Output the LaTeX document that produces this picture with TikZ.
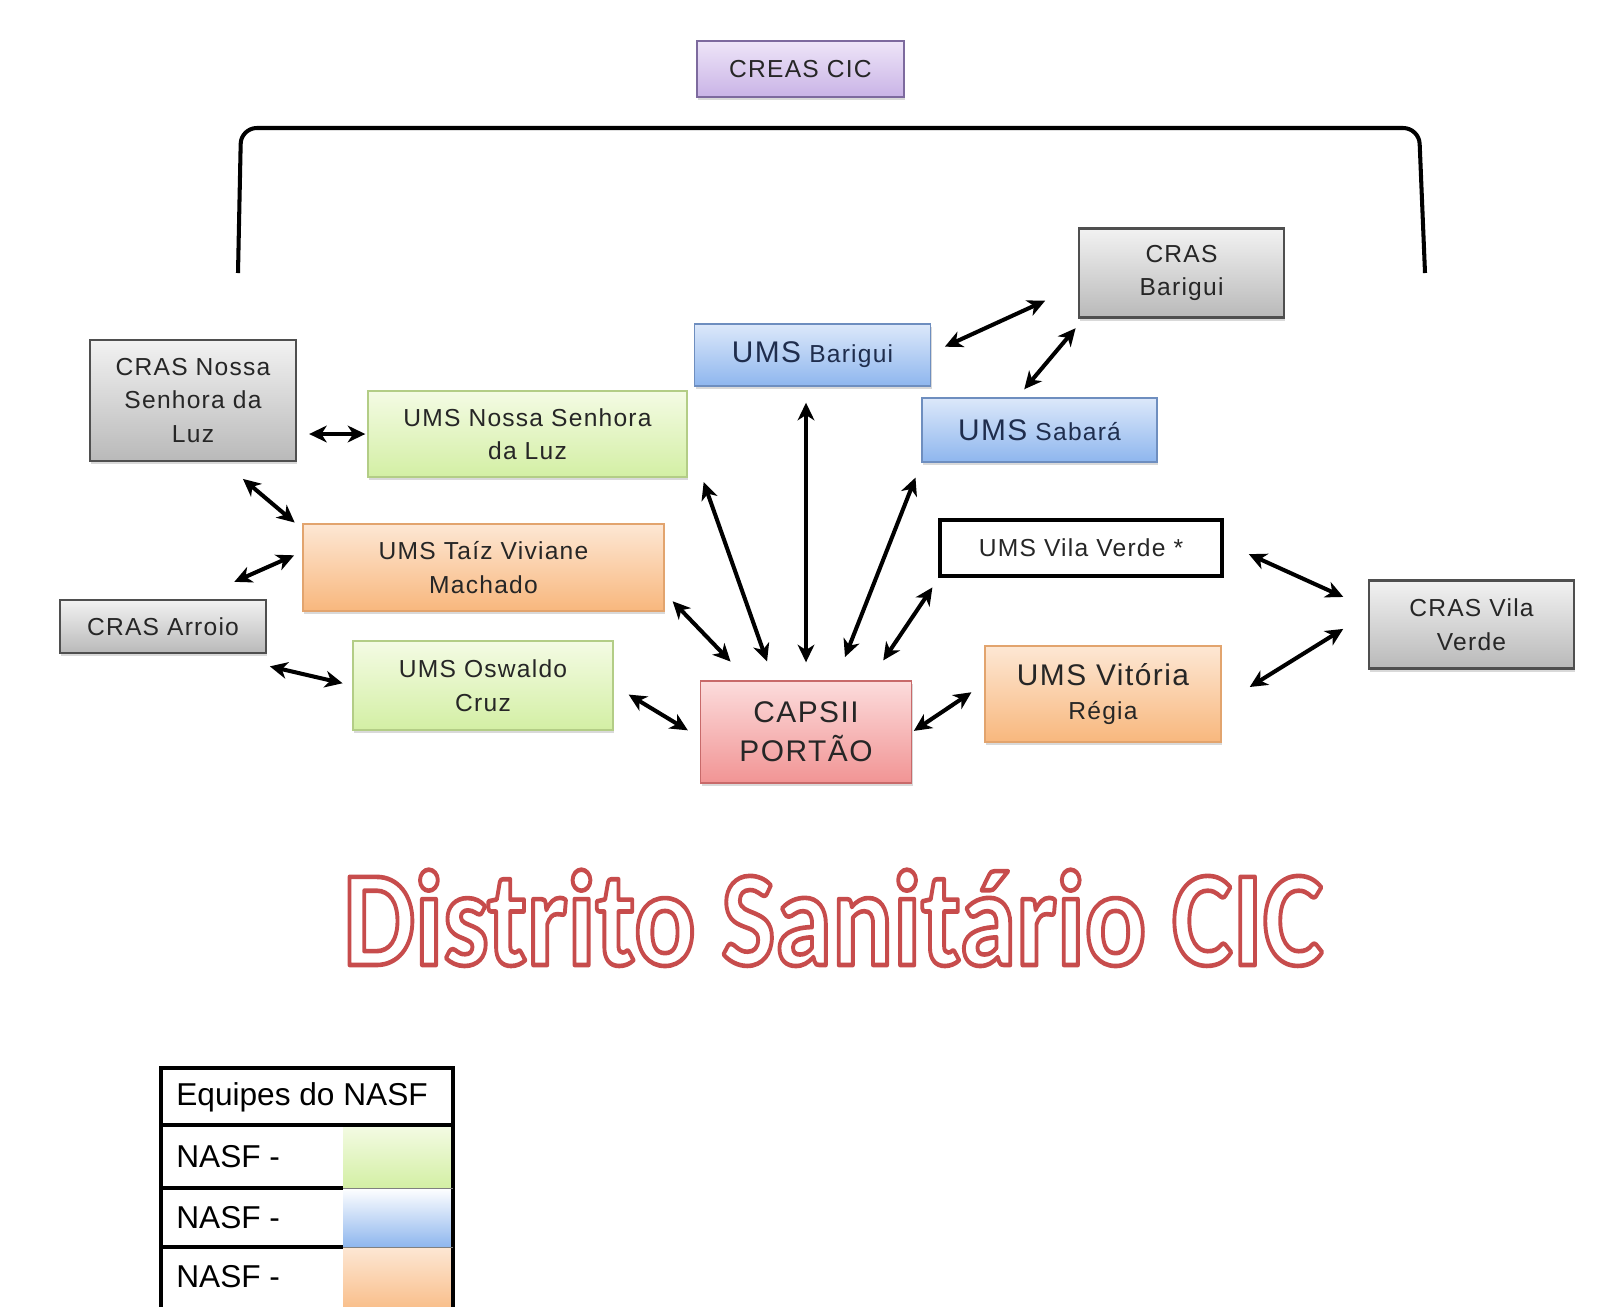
\documentclass[tikz,border=0pt]{standalone}
\usepackage{fontspec}
\setmainfont{Liberation Sans}
\newfontfamily\boxfont{Liberation Sans}[LetterSpace=5]
\newfontfamily\titlefont{Carlito}
\usetikzlibrary{arrows.meta,shadows}
\definecolor{crastop}{HTML}{F2F2F2}
\definecolor{crasbot}{HTML}{B9B9B9}
\definecolor{crasline}{HTML}{4F4F4F}
\definecolor{bluetop}{HTML}{DCE8FA}
\definecolor{bluebot}{HTML}{8EB6EE}
\definecolor{blueline}{HTML}{6E8EBF}
\definecolor{bluetext}{HTML}{1F2D4D}
\definecolor{greentop}{HTML}{F4FBE4}
\definecolor{greenbot}{HTML}{D3EFA4}
\definecolor{greenline}{HTML}{B3CD86}
\definecolor{orangetop}{HTML}{FDE7D4}
\definecolor{orangebot}{HTML}{F8B77D}
\definecolor{orangeline}{HTML}{E2A46E}
\definecolor{capstop}{HTML}{FCDCDC}
\definecolor{capsbot}{HTML}{F19494}
\definecolor{capsline}{HTML}{C86A6A}
\definecolor{creastop}{HTML}{EEE5F8}
\definecolor{creasbot}{HTML}{C9B3E6}
\definecolor{creasline}{HTML}{7D6A9E}
\newcommand{\umsbig}[1]{{\fontsize{17pt}{20pt}\selectfont #1}}
% texto vazado: preenchimento branco, contorno vermelho
\newcommand{\outlined}[1]{\textcolor{white}{\special{pdf:literal direct 2 Tr 2.2 w 1 j 0.78 0.3 0.3 RG}#1\special{pdf:literal direct 0 Tr}}}

\begin{document}
\begin{tikzpicture}[x=0.02cm, y=-0.02cm]
	\tikzstyle{box} = [rectangle, align=center, text=black!85, font=\boxfont\fontsize{14pt}{19pt}\selectfont]
	\tikzstyle{shaded} = [box, drop shadow={shadow xshift=0.6pt, shadow yshift=-1.8pt, opacity=0.3}]
	\tikzstyle{crasbox} = [shaded, draw=crasline, line width=1.3pt, top color=crastop, bottom color=crasbot]
	\tikzstyle{creasbox} = [shaded, draw=creasline, line width=1pt, top color=creastop, bottom color=creasbot]
	\tikzstyle{nasfgreen} = [shaded, draw=greenline, line width=0.8pt, top color=greentop, bottom color=greenbot]
	\tikzstyle{nasfblue} = [shaded, draw=blueline, line width=0.8pt, top color=bluetop, bottom color=bluebot, text=bluetext]
	\tikzstyle{nasforange} = [shaded, draw=orangeline, line width=0.8pt, top color=orangetop, bottom color=orangebot]
	\tikzstyle{capsbox} = [shaded, draw=capsline, line width=0.8pt, top color=capstop, bottom color=capsbot]
	\tikzstyle{plainbox} = [box, draw=black, line width=2.6pt, fill=white]
	\tikzstyle{arrow} = [line width=2.3pt, <->, >={Stealth[length=10pt,width=9.5pt,inset=3pt]}]
	\tikzstyle{legendtext} = [anchor=west, inner sep=0pt, font=\fontsize{18pt}{20pt}\selectfont]
\useasboundingbox (0,0) rectangle (1601,1306);

  \node(creas)[creasbox, minimum width=4.14cm, minimum height=1.12cm] at (800.5,69) {CREAS CIC};
  \draw [line width=2.3pt, rounded corners=9pt] (238,273) -- (241,128) -- (1419,128) -- (1425,273);

  \node(crasbarigui)[crasbox, minimum width=4.1cm, minimum height=1.78cm] at (1181.5,273) {CRAS\\Barigui};
  \node(umsbarigui)[nasfblue, minimum width=4.72cm, minimum height=1.24cm] at (812.5,355) {\umsbig{UMS} Barigui};
  \node(umssabara)[nasfblue, minimum width=4.7cm, minimum height=1.28cm] at (1039.5,430) {\umsbig{UMS} Sabará};
  \node(crasnsl)[crasbox, minimum width=4.12cm, minimum height=2.42cm] at (193,400.5) {CRAS Nossa\\Senhora da\\Luz};
  \node(umsnsl)[nasfgreen, minimum width=6.38cm, minimum height=1.72cm] at (527.5,434) {UMS Nossa Senhora\\da Luz};
  \node(umstaiz)[nasforange, minimum width=7.22cm, minimum height=1.74cm] at (483.5,567.5) {UMS Taíz Viviane\\Machado};
  \node(crasarroio)[crasbox, minimum width=4.12cm, minimum height=1.06cm] at (163,626.5) {CRAS Arroio};
  \node(umsoswaldo)[nasfgreen, minimum width=5.2cm, minimum height=1.78cm] at (483,685.5) {UMS Oswaldo\\Cruz};
  \node(capsii)[capsbox, minimum width=4.22cm, minimum height=2.04cm, font=\boxfont\fontsize{17pt}{22pt}\selectfont] at (806,732) {CAPSII\\PORTÃO};
  \node(umsvilaverde)[plainbox, minimum width=5.64cm, minimum height=1.12cm] at (1081,548) {UMS Vila Verde *};
  \node(umsvitoria)[nasforange, minimum width=4.72cm, minimum height=1.92cm] at (1103,694) {\umsbig{UMS Vitória}\\Régia};
  \node(crasvilaverde)[crasbox, minimum width=4.1cm, minimum height=1.76cm] at (1471.5,624.5) {CRAS Vila\\Verde};

  \draw [arrow, shorten <=0.24cm, shorten >=0.04cm] (crasnsl.east |- umsnsl.west) -- (umsnsl.west);
  \draw [arrow, shorten <=0.52cm, shorten >=0.2cm] (crasnsl.-64) -- (umstaiz.168);
  \draw [arrow, shorten <=0.84cm, shorten >=0.18cm] (crasarroio.40) -- (umstaiz.175);
  \draw [arrow, shorten <=1.08cm, shorten >=0.2cm] (crasarroio.-27) -- (umsoswaldo.west);
  \draw [arrow, shorten <=0.35cm, shorten >=0.28cm] (umsoswaldo.east) -- (capsii.183);
  \draw [arrow, shorten <=0.23cm, shorten >=0.52cm] (umstaiz.-8) -- (capsii.138);
  \draw [arrow, shorten <=0.96cm, shorten >=0.4cm] (umsnsl.-1) -- (capsii.122);
  \draw [arrow, shorten <=0.32cm, shorten >=0.36cm] (umsbarigui.south -| capsii.north) -- (capsii.north);
  \draw [arrow, shorten <=0.32cm, shorten >=0.5cm] (umssabara.south west) -- (capsii.60);
  \draw [arrow, shorten <=0.22cm, shorten >=0.48cm] (umsvilaverde.192) -- (capsii.39);
  \draw [arrow, shorten <=0.04cm, shorten >=0.31cm] (capsii.east) -- (umsvitoria.175);
  \draw [arrow, shorten <=0.54cm, shorten >=0.54cm] (umsvilaverde.2) -- (crasvilaverde.171);
  \draw [arrow, shorten <=0.66cm, shorten >=0.58cm] (umsvitoria.-5) -- (crasvilaverde.174);
  \draw [arrow, shorten <=0.3cm, shorten >=0.72cm] (umsbarigui.1) -- (crasbarigui.187);
  \draw [arrow, shorten <=0.21cm, shorten >=0.25cm] (umssabara.124) -- (crasbarigui.205);

  \node(title)[anchor=base, inner sep=0pt, font=\titlefont\bfseries\fontsize{65pt}{70pt}\selectfont] at (833,965)
    {\scalebox{1}[1.19]{\outlined{Distrito Sanitário CIC}}};

  % legenda
  \shade[top color=greentop, bottom color=greenbot] (343,1125) rectangle (453,1188);
  \shade[top color=white, bottom color=bluebot] (343,1188) rectangle (453,1247);
  \shade[top color=orangetop, bottom color=orangebot] (343,1247) rectangle (453,1320);
  \draw [line width=1.8pt] (161,1068) rectangle (453,1320);
  \draw [line width=1.8pt] (161,1125) -- (453,1125);
  \draw [line width=1.8pt] (161,1188) -- (343,1188);
  \draw [line width=1.8pt] (161,1247) -- (343,1247);
  \draw [line width=0.5pt, black!50] (343,1188) -- (453,1188) (343,1247) -- (453,1247);
  \node(legendhead)[legendtext] at (176,1097) {Equipes do NASF};
  \node(nasfa)[legendtext] at (176,1157) {NASF -};
  \node(nasfb)[legendtext] at (176,1218) {NASF -};
  \node(nasfc)[legendtext] at (176,1277) {NASF -};
\end{tikzpicture}
\end{document}
